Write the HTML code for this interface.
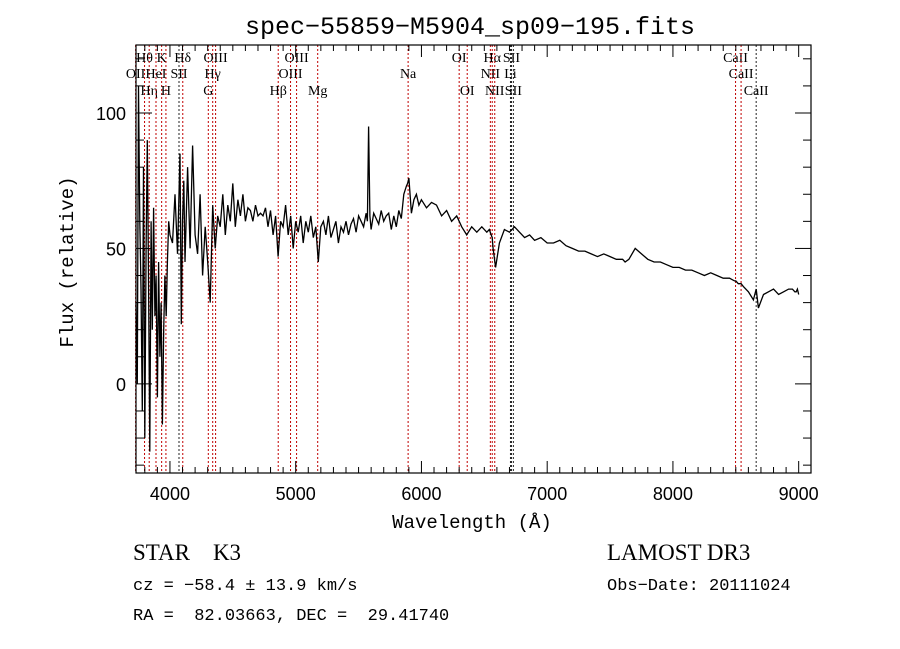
<!DOCTYPE html>
<html><head><meta charset="utf-8">
<style>
html,body{margin:0;padding:0;background:#fff;}
svg{display:block;}
svg text{white-space:pre;}
.t{font-family:"Liberation Sans",sans-serif;}
.m{font-family:"Liberation Mono",monospace;}
.s{font-family:"Liberation Serif",serif;}
</style></head>
<body>
<svg id="chart" width="900" height="649" viewBox="0 0 900 649" xmlns="http://www.w3.org/2000/svg" xml:space="preserve">
<rect width="900" height="649" fill="#fff"/>
<text x="470" y="34" text-anchor="middle" class="m" font-size="25" fill="#000">spec−55859−M5904_sp09−195.fits</text>
<g id="lines"></g>
<g id="ticks"></g>
<path id="spec" fill="none" stroke="#000" stroke-width="1.3"/>
<rect x="136" y="45" width="675" height="428" fill="none" stroke="#000" stroke-width="1.2"/>
<text transform="translate(73,262) rotate(-90)" text-anchor="middle" class="m" font-size="19" fill="#000">Flux (relative)</text>
<text x="472" y="528" text-anchor="middle" class="m" font-size="19" fill="#000">Wavelength (Å)</text>
<text x="133" y="560" class="s" font-size="23" fill="#000">STAR    K3</text>
<text x="133" y="590" class="m" font-size="17" fill="#000">cz = −58.4 ± 13.9 km/s</text>
<text x="133" y="620" class="m" font-size="17" fill="#000">RA =  82.03663, DEC =  29.41740</text>
<text x="607" y="560" class="s" font-size="23" fill="#000">LAMOST DR3</text>
<text x="607" y="590" class="m" font-size="17" fill="#000">Obs−Date: 20111024</text>
</svg>
<script>
const xTicks=[4000,5000,6000,7000,8000,9000];
const yTicks=[0,50,100];
const lineWaves=[3727,3798,3835,3889,3934,3968,4072,4102,4305,4340,4363,4861,4959,5007,5175,5894,6300,6364,6548,6563,6583,6708,6716,6731,8498,8542,8662];
const lineColors=['r','r','r','r','r','r','k','r','r','r','r','r','r','r','r','r','r','r','r','r','r','k','k','k','r','r','k'];
const labelText=['OII','Hθ','Hη','HeI','K','H','SII','Hδ','G','Hγ','OIII','Hβ','OIII','OIII','Mg','Na','OI','OI','NII','Hα','NII','Li','SII','SII','CaII','CaII','CaII'];
const labelRow=[1,0,2,1,0,2,1,0,2,1,0,2,1,0,2,1,0,2,1,0,2,1,0,2,0,1,2];
const waves=[3730,3740,3750,3760,3770,3780,3790,3800,3810,3820,3830,3840,3850,3860,3870,3880,3890,3900,3910,3920,3930,3940,3950,3960,3970,3980,3990,4000,4020,4040,4060,4080,4090,4100,4110,4120,4140,4160,4180,4200,4220,4240,4260,4280,4300,4320,4340,4360,4380,4400,4420,4440,4460,4480,4500,4520,4540,4560,4580,4600,4620,4640,4660,4680,4700,4720,4740,4760,4780,4800,4820,4840,4860,4880,4900,4920,4940,4960,4980,5000,5020,5040,5060,5080,5100,5120,5140,5160,5180,5200,5220,5240,5260,5280,5300,5320,5340,5360,5380,5400,5420,5440,5460,5480,5500,5520,5540,5560,5570,5580,5590,5600,5620,5640,5660,5680,5700,5720,5740,5760,5780,5800,5820,5840,5860,5880,5890,5900,5920,5940,5960,5980,6000,6040,6080,6120,6160,6200,6240,6280,6300,6320,6360,6400,6440,6480,6520,6540,6555,6563,6570,6590,6620,6660,6700,6740,6780,6820,6860,6900,6950,7000,7050,7100,7150,7200,7250,7300,7350,7400,7450,7500,7550,7600,7620,7650,7700,7750,7800,7850,7900,7950,8000,8050,8100,8150,8200,8250,8300,8350,8400,8450,8490,8500,8520,8542,8560,8600,8640,8662,8680,8720,8760,8800,8840,8880,8920,8950,8970,8980,8990,9000];
const flux=[30,0,110,60,35,-10,80,-20,50,90,35,-25,60,20,65,25,40,-5,45,10,30,-15,20,40,25,45,60,55,52,70,48,85,22,60,75,45,80,50,88,55,48,70,40,58,45,30,66,50,62,58,70,55,66,60,74,58,68,62,70,60,65,64,60,66,62,63,62,65,58,64,55,62,47,60,58,66,55,62,50,60,56,62,52,60,56,62,54,58,45,58,60,55,62,54,57,60,52,58,56,60,55,59,61,56,62,60,58,63,60,95,62,57,63,61,59,64,60,62,63,57,62,58,64,61,70,73,74,76,63,68,70,66,68,65,67,66,62,64,60,62,60,58,55,58,56,58,56,57,55,54,50,43,52,57,56,58,56,54,55,53,54,52,52,53,51,50,49,49,48,47,48,47,46,46,45,46,50,48,46,45,45,44,43,43,42,42,41,40,41,40,39,39,38,38,37,37,36,34,31,35,28,33,34,35,33,34,35,35,34,34,35,33,35,36,34,20,5,0];
const X0=136,X1=811,Y0=45,Y1=473,WMIN=3730,WMAX=9098,FMIN=-32.9,FMAX=125.1;
function sx(w){return X0+(w-WMIN)/(WMAX-WMIN)*(X1-X0);}
function sy(f){return Y1-(f-FMIN)/(FMAX-FMIN)*(Y1-Y0);}
const NS='http://www.w3.org/2000/svg';
let d='';
for(let i=0;i<waves.length;i++){d+=(i?'L':'M')+sx(waves[i]).toFixed(1)+' '+sy(flux[i]).toFixed(1);}
document.getElementById('spec').setAttribute('d',d);
const lg=document.getElementById('lines');
const rowY=[62,78,95];
for(let i=0;i<lineWaves.length;i++){
  const x=sx(lineWaves[i]);
  const l=document.createElementNS(NS,'line');
  
  
  l.setAttribute('x1',x);l.setAttribute('x2',x);l.setAttribute('y1',Y0);l.setAttribute('y2',Y1);
  l.setAttribute('stroke',lineColors[i]==='r'?'#c00000':'#222');
  l.setAttribute('stroke-width','1');l.setAttribute('stroke-dasharray','2,2');
  lg.appendChild(l);
  const t=document.createElementNS(NS,'text');
  
  
  t.setAttribute('x',x);t.setAttribute('y',rowY[labelRow[i]]);
  t.setAttribute('text-anchor','middle');t.setAttribute('font-size','14');
  t.setAttribute('font-family','"Liberation Serif",serif');
  t.textContent=labelText[i];
  lg.appendChild(t);
}
const tg=document.getElementById('ticks');
function ln(x1,y1,x2,y2){const l=document.createElementNS(NS,'line');l.setAttribute('x1',x1);l.setAttribute('y1',y1);l.setAttribute('x2',x2);l.setAttribute('y2',y2);l.setAttribute('stroke','#000');tg.appendChild(l);}
for(let w=3800;w<=9000;w+=100){const x=sx(w);const maj=w%1000===0;const L=maj?12:6;ln(x,Y1,x,Y1-L);ln(x,Y0,x,Y0+L);}
for(let f=-30;f<=120;f+=10){const y=sy(f);const maj=f%50===0;const L=maj?16:8;ln(X0,y,X0+L,y);ln(X1,y,X1-L,y);}
for(const w of xTicks){const t=document.createElementNS(NS,'text');


t.setAttribute('x',sx(w));t.setAttribute('y',Y1+27);t.setAttribute('text-anchor','middle');t.setAttribute('font-size','18');t.setAttribute('font-family','"Liberation Sans",sans-serif');t.textContent=w;tg.appendChild(t);}
for(const f of yTicks){const t=document.createElementNS(NS,'text');


t.setAttribute('x',X0-10);t.setAttribute('y',sy(f)+7);t.setAttribute('text-anchor','end');t.setAttribute('font-size','18');t.setAttribute('font-family','"Liberation Sans",sans-serif');t.textContent=f;tg.appendChild(t);}
</script>
</body></html>
